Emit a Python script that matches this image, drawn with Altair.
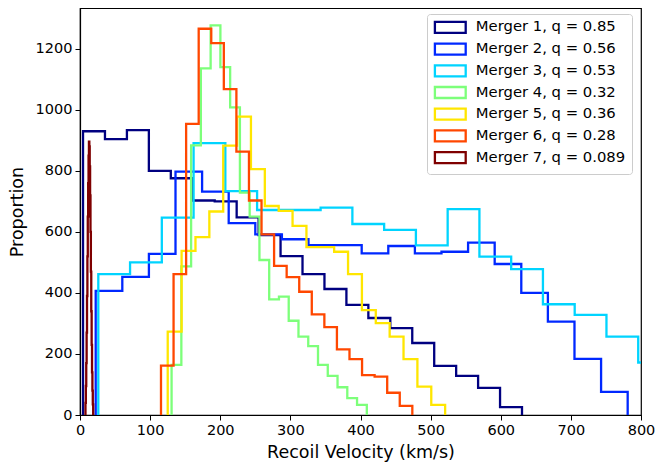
import altair as alt
import pandas as pd

labels = ["Merger 1, q = 0.85", "Merger 2, q = 0.56", "Merger 3, q = 0.53",
          "Merger 4, q = 0.32", "Merger 5, q = 0.36", "Merger 6, q = 0.28",
          "Merger 7, q = 0.089"]
colors = ["#000080", "#0028ff", "#00d4ff", "#7dff7a", "#ffe600", "#ff4700", "#7f0000"]

# first bin edge (km/s) and bin width (km/s) of each histogram
bin_start = [4.3, 22.4, 26.1, 130.6, 125.1, 115.5, 7.8]
bin_width = [31.3, 37.93, 45.29, 13.92, 19.78, 17.92, 0.55]

m1 = [930, 904, 934, 800, 776, 703, 700, 648, 590, 521, 462, 413, 361, 318, 285, 236, 161, 128, 89, 26]
m2 = [407, 453, 528, 798, 732, 629, 592, 576, 557, 557, 530, 554, 530, 535, 565, 495, 400, 306, 184, 76]
m3 = [462, 500, 647, 891, 734, 672, 672, 680, 626, 607, 556, 675, 519, 478, 363, 328, 257, 172]
m4 = [164, 487, 884, 1136, 1277, 1140, 1008, 729, 650, 508, 379, 388, 309, 257, 226, 164, 128, 91, 55, 33]
m5 = [273, 538, 583, 667, 883, 978, 806, 685, 669, 620, 550, 550, 535, 462, 344, 301, 257, 183, 93, 33]
m6 = [162, 462, 954, 1266, 1219, 1068, 863, 703, 592, 489, 452, 404, 330, 288, 215, 183, 131, 126, 73, 30]
m7 = [40, 95, 170, 270, 390, 520, 650, 760, 850, 896, 880, 815, 720, 600, 470, 340, 230, 140, 80, 35]
counts = [m1, m2, m3, m4, m5, m6, m7]

rows = []
for lab, s, w, c in zip(labels, bin_start, bin_width, counts):
    pts = [(s, 0)]
    for i, h in enumerate(c):
        pts.append((s + i * w, h))
        pts.append((s + (i + 1) * w, h))
    pts.append((s + len(c) * w, 0))
    for j, (xv, yv) in enumerate(pts):
        rows.append({"series": lab, "v": xv, "p": yv, "order": j})
df = pd.DataFrame(rows)

FONT = "DejaVu Sans"

chart = alt.Chart(df).mark_line(clip=True, strokeWidth=2.3, strokeJoin="miter").encode(
    x=alt.X("v:Q", scale=alt.Scale(domain=[0, 800], nice=False, zero=False),
            axis=alt.Axis(values=list(range(0, 801, 100)), title="Recoil Velocity (km/s)",
                          format="d", labelFlush=False, grid=False,
                          labelPadding=3, titlePadding=7)),
    y=alt.Y("p:Q", scale=alt.Scale(domain=[0, 1334], nice=False),
            axis=alt.Axis(values=list(range(0, 1201, 200)), title="Proportion",
                          format="d", labelFlush=False, grid=False,
                          labelPadding=3, titlePadding=9)),
    color=alt.Color("series:N", scale=alt.Scale(domain=labels, range=colors),
                    legend=alt.Legend(title=None, orient="none", legendX=347, legendY=6,
                                      symbolType="M-1,-1H4.6V1H-1Z", symbolSize=121,
                                      symbolStrokeWidth=2.3, symbolFillColor="white",
                                      labelFontSize=14.8, labelFont=FONT, labelColor="black",
                                      labelOffset=28, labelLimit=400, padding=6, rowPadding=0.7,
                                      strokeColor="#cccccc", fillColor="white", cornerRadius=3)),
    order="order:Q",
).properties(
    width=561, height=407,
    autosize=alt.AutoSizeParams(type="none"),
    padding={"left": 72, "top": 0, "right": 21, "bottom": 47},
).configure_axis(
    labelFont=FONT, titleFont=FONT, labelFontSize=14.5, titleFontSize=17.5,
    titleFontWeight="normal", labelColor="black", titleColor="black",
    domainColor="black", tickColor="black", tickSize=5, tickWidth=1, domainWidth=1.2,
).configure_view(stroke="black", strokeWidth=1.2)

chart.save("out.html", embed_options={"renderer": "svg", "actions": False})
